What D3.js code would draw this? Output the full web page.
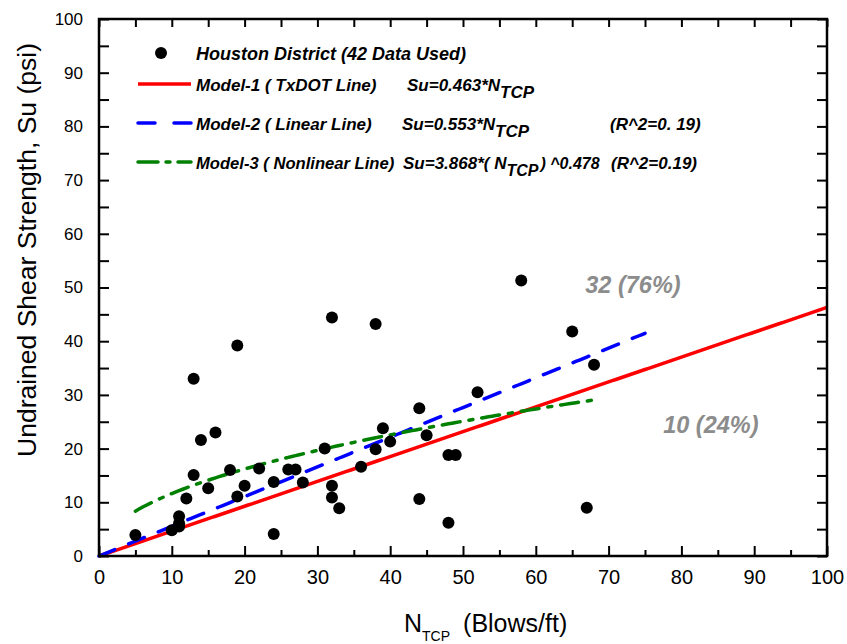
<!DOCTYPE html>
<html>
<head>
<meta charset="utf-8">
<script src="https://cdn.jsdelivr.net/npm/d3@7"></script>
<style>
  html, body { margin: 0; padding: 0; background: #fff; }
  svg { display: block; font-family: "Liberation Sans", Arial, sans-serif; }
</style>
</head>
<body>
<svg id="chart" width="847" height="644"></svg>
<script>
// ---- data ----
const nTCP = [5, 10, 11, 11, 11, 12, 13, 13, 14, 15, 16, 18, 19, 19, 20, 22, 24, 24, 26, 27, 28,
              31, 32, 32, 32, 33, 36, 38, 38, 39, 40, 44, 44, 45, 48, 49, 48, 52, 58, 65, 68, 67];
const suVals = [3.9, 4.8, 7.4, 6.1, 5.5, 10.7, 33.0, 15.1, 21.6, 12.6, 23.0, 16.0, 39.2, 11.1, 13.1, 16.3, 13.8, 4.1, 16.1, 16.1, 13.7,
              20.0, 44.4, 13.1, 10.9, 8.9, 16.6, 43.2, 19.9, 23.8, 21.3, 27.5, 10.6, 22.5, 18.8, 18.8, 6.2, 30.5, 51.3, 41.8, 35.6, 9.0];

// model definitions (coefficients from the legend) and the N range each one covers
const modelNames = ["Model-1", "Model-2", "Model-3"];
const modelCoef = [0.463, 0.553, 3.868];
const modelExp = [1, 1, 0.478];
const modelRange = [[0, 100], [0, 75], [5, 68]];
const modelColors = ["#ff0000", "#0000ff", "#008000"];
const modelDash = [null, "17,15", "18,9,4,9"];

const xTicks = [0, 10, 20, 30, 40, 50, 60, 70, 80, 90, 100];
const yTicks = [0, 10, 20, 30, 40, 50, 60, 70, 80, 90, 100];
const annotations = ["32 (76%)", "10 (24%)"];
const annotPos = [[66.8, 49.0], [77.5, 22.9]];

// ---- layout ----
const svg = d3.select("#chart");
const L = 99, R = 827, T = 19, B = 556;
const x = d3.scaleLinear().domain([0, 100]).range([L, R]);
const y = d3.scaleLinear().domain([0, 100]).range([B, T]);

// ---- model lines ----
const line = d3.line().x(d => x(d[0])).y(d => y(d[1]));
modelNames.forEach((m, i) => {
  const [a, b] = modelRange[i];
  const pts = d3.range(a, b + 0.001, 0.5).map(n => [n, modelCoef[i] * Math.pow(n, modelExp[i])]);
  const p = svg.append("path").datum(pts).attr("d", line)
    .attr("fill", "none").attr("stroke", modelColors[i])
    .attr("stroke-width", 3.5);
  if (modelDash[i]) p.attr("stroke-dasharray", modelDash[i]).attr("stroke-linecap", "round");
});

// ---- data points ----
svg.append("g").selectAll("circle").data(nTCP).join("circle")
  .attr("cx", (d) => x(d)).attr("cy", (d, i) => y(suVals[i])).attr("r", 6)
  .attr("fill", "#000");

// ---- axes ----
const ax = svg.append("g");
const minor5 = d3.range(0, 101, 5);
// bottom
ax.append("g").attr("transform", `translate(0,${B})`)
  .call(d3.axisBottom(x).tickValues(xTicks).tickSize(-10).tickSizeOuter(0).tickPadding(14))
  .call(g => g.selectAll("text").attr("font-size", 20).attr("fill", "#000").attr("font-family", "Liberation Sans, Arial, sans-serif"))
  .call(g => g.select(".domain").remove());
ax.append("g").attr("transform", `translate(0,${B})`)
  .call(d3.axisBottom(x).tickValues(minor5.filter(v => v % 10)).tickSize(-6).tickFormat(""))
  .call(g => g.select(".domain").remove());
// top
ax.append("g").attr("transform", `translate(0,${T})`)
  .call(d3.axisTop(x).tickValues(minor5).tickSize(-8).tickFormat(""))
  .call(g => g.select(".domain").remove());
// left
ax.append("g").attr("transform", `translate(${L},0)`)
  .call(d3.axisLeft(y).tickValues(yTicks).tickSize(-10).tickPadding(16))
  .call(g => g.selectAll("text").attr("font-size", 17).attr("fill", "#000").attr("font-family", "Liberation Sans, Arial, sans-serif"))
  .call(g => g.select(".domain").remove());
ax.append("g").attr("transform", `translate(${L},0)`)
  .call(d3.axisLeft(y).tickValues(minor5.filter(v => v % 10)).tickSize(-10).tickFormat(""))
  .call(g => g.select(".domain").remove());
// right
ax.append("g").attr("transform", `translate(${R},0)`)
  .call(d3.axisRight(y).tickValues(minor5).tickSize(-10).tickFormat(""))
  .call(g => g.select(".domain").remove());
ax.selectAll(".tick line").attr("stroke", "#000").attr("stroke-width", 2);
// frame
svg.append("rect").attr("x", L).attr("y", T).attr("width", R - L).attr("height", B - T)
  .attr("fill", "none").attr("stroke", "#000").attr("stroke-width", 2.5);

// ---- axis titles ----
const xt = svg.append("text").attr("x", 404).attr("y", 632).attr("font-size", 25).attr("fill", "#000");
xt.append("tspan").text("N");
xt.append("tspan").attr("font-size", 14).attr("dy", 9).text("TCP");
xt.append("tspan").attr("dy", -9).attr("dx", 13).text("(Blows/ft)");

svg.append("text").attr("transform", `translate(36,250) rotate(-90)`)
  .attr("text-anchor", "middle").attr("font-size", 26.5).attr("fill", "#000")
  .text("Undrained Shear Strength, Su (psi)");

// ---- legend ----
const lg = svg.append("g").attr("font-size", 17).attr("font-weight", "bold").attr("font-style", "italic").attr("fill", "#000");
lg.append("circle").attr("cx", 161).attr("cy", 53).attr("r", 6).attr("fill", "#000");
lg.append("text").attr("x", 196).attr("y", 60).attr("font-size", 18).text("Houston District (42 Data Used)");
const rowsY = [84, 123, 162];
const labels = ["Model-1 ( TxDOT Line)", "Model-2 ( Linear Line)", "Model-3 ( Nonlinear Line)"];
rowsY.forEach((ly, i) => {
  const l = lg.append("line").attr("x1", 138).attr("x2", 191).attr("y1", ly).attr("y2", ly)
    .attr("stroke", modelColors[i]).attr("stroke-width", 3.5);
  if (modelDash[i]) l.attr("stroke-dasharray", i === 1 ? "17,19" : "20,8,4,8").attr("stroke-linecap", "round");
});
lg.append("text").attr("x", 196).attr("y", 91).text(labels[0]);
const f1 = lg.append("text").attr("x", 407).attr("y", 91);
f1.append("tspan").text("Su=" + modelCoef[0].toFixed(3) + "*N");
f1.append("tspan").attr("dy", 7).text("TCP");

lg.append("text").attr("x", 196).attr("y", 130).text(labels[1]);
const f2 = lg.append("text").attr("x", 402).attr("y", 130);
f2.append("tspan").text("Su=" + modelCoef[1].toFixed(3) + "*N");
f2.append("tspan").attr("dy", 7).text("TCP");
lg.append("text").attr("x", 610).attr("y", 130).text("(R^2=0. 19)");

lg.append("text").attr("x", 196).attr("y", 169).attr("font-size", 16.6).text(labels[2]);
const f3 = lg.append("text").attr("x", 403).attr("y", 169);
f3.append("tspan").text("Su=" + modelCoef[2].toFixed(3) + "*( N");
f3.append("tspan").attr("dy", 7).attr("font-size", 16).text("TCP");
f3.append("tspan").attr("dy", -7).attr("dx", 2).attr("font-size", 16).text(") ^" + modelExp[2].toFixed(3));
lg.append("text").attr("x", 611).attr("y", 169).text("(R^2=0.19)");

// ---- annotations ----
svg.append("g").selectAll("text").data(annotations).join("text")
  .attr("x", (d, i) => x(annotPos[i][0])).attr("y", (d, i) => y(annotPos[i][1]))
  .attr("font-size", 23.5).attr("font-weight", "bold").attr("font-style", "italic")
  .attr("fill", "#8c8c8c").text(d => d);
</script>
</body>
</html>
